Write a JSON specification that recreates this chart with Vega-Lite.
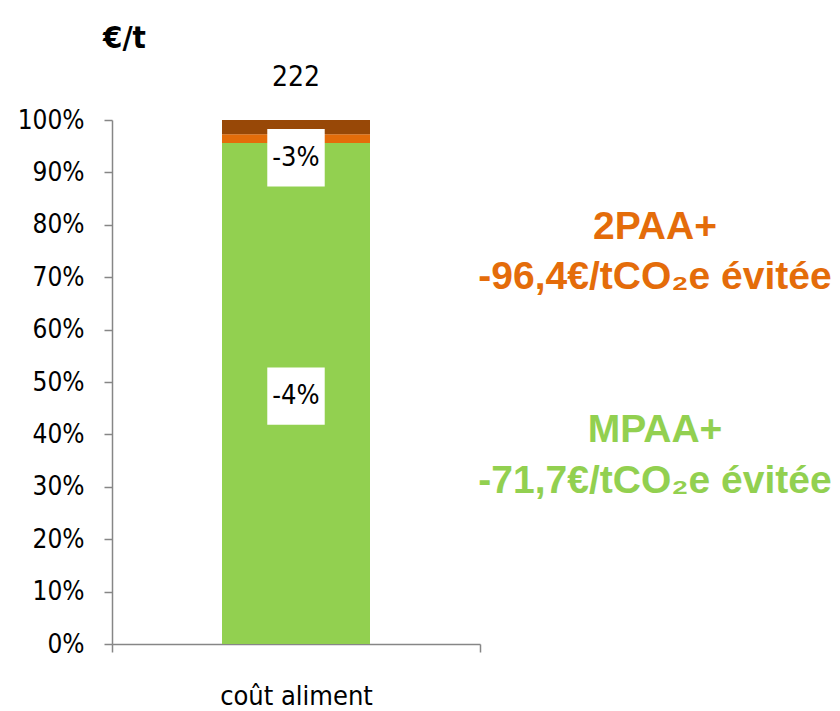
{
  "$schema": "https://vega.github.io/schema/vega-lite/v6.json",
  "background": "white",
  "padding": {"left": 17, "top": 22, "right": 0, "bottom": 0},
  "bounds": "flush",
  "spacing": 0,
  "config": {"view": {"stroke": null}, "font": "'DejaVu Sans Condensed', 'Liberation Sans Narrow', 'Roboto Condensed', 'Liberation Sans', sans-serif"},
  "datasets": {
    "parts": [
      {"poste": "coût aliment", "segment": "MPAA+", "part": 0.956},
      {"poste": "coût aliment", "segment": "2PAA+", "part": 0.017},
      {"poste": "coût aliment", "segment": "autre", "part": 0.027}
    ],
    "labels": [
      {"poste": "coût aliment", "label": "-3%"},
      {"poste": "coût aliment", "label": "-4%"}
    ],
    "total": [{"poste": "coût aliment", "total": 222}],
    "notes": [
      {"projet": "2PAA+", "lignes": ["2PAA+", "-96,4€/tCO₂e évitée"]},
      {"projet": "MPAA+", "lignes": ["MPAA+", "-71,7€/tCO₂e évitée"]}
    ]
  },
  "hconcat": [
    {
      "width": 368,
      "height": 524,
      "layer": [
        {
          "data": {"name": "parts"},
          "transform": [{"calculate": "indexof(['MPAA+', '2PAA+', 'autre'], datum.segment)", "as": "rang"}],
          "mark": {"type": "bar", "width": 148},
          "encoding": {
            "x": {
              "field": "poste", "type": "nominal",
              "scale": {"paddingInner": 0, "paddingOuter": 0},
              "axis": {
                "title": null, "labelAngle": 0, "labelFontSize": 27, "labelColor": "black",
                "labelPadding": 31, "tickBand": "extent", "tickSize": 8,
                "domainColor": "#868686", "tickColor": "#868686", "domainWidth": 1.5, "tickWidth": 1.5
              }
            },
            "y": {
              "field": "part", "type": "quantitative", "stack": "zero",
              "scale": {"domain": [0, 1]},
              "axis": {
                "title": "€/t", "titleAngle": 0, "titleFontWeight": "bold", "titleFontSize": 31,
                "titleColor": "black", "titleX": 12, "titleY": -73, "titleAlign": "center",
                "titleBaseline": "alphabetic",
                "format": ".0%", "values": [0, 0.1, 0.2, 0.3, 0.4, 0.5, 0.6, 0.7, 0.8, 0.9, 1],
                "labelFontSize": 26, "labelColor": "black", "labelPadding": 20, "tickSize": 8,
                "grid": false, "domainColor": "#868686", "tickColor": "#868686",
                "domainWidth": 1.5, "tickWidth": 1.5
              }
            },
            "order": {"field": "rang", "type": "quantitative", "sort": "ascending"},
            "color": {
              "field": "segment", "type": "nominal",
              "scale": {"domain": ["MPAA+", "2PAA+", "autre"], "range": ["#92D050", "#E46C0A", "#984807"]},
              "legend": null
            }
          }
        },
        {
          "data": {"name": "labels"},
          "transform": [{"filter": "datum.label === '-3%'"}],
          "layer": [
            {"mark": {"type": "square", "filled": true, "color": "white", "opacity": 1, "size": 3300},
             "encoding": {"x": {"field": "poste", "type": "nominal"}, "y": {"datum": 0.928}}},
            {"mark": {"type": "text", "fontSize": 27, "color": "black"},
             "encoding": {"x": {"field": "poste", "type": "nominal"}, "y": {"datum": 0.928}, "text": {"field": "label"}}}
          ]
        },
        {
          "data": {"name": "labels"},
          "transform": [{"filter": "datum.label === '-4%'"}],
          "layer": [
            {"mark": {"type": "square", "filled": true, "color": "white", "opacity": 1, "size": 3300},
             "encoding": {"x": {"field": "poste", "type": "nominal"}, "y": {"datum": 0.473}}},
            {"mark": {"type": "text", "fontSize": 27, "color": "black"},
             "encoding": {"x": {"field": "poste", "type": "nominal"}, "y": {"datum": 0.473}, "text": {"field": "label"}}}
          ]
        },
        {
          "data": {"name": "total"},
          "mark": {"type": "text", "fontSize": 28, "color": "black", "baseline": "alphabetic", "dy": -34},
          "encoding": {"x": {"field": "poste", "type": "nominal"}, "y": {"datum": 1}, "text": {"field": "total", "type": "quantitative"}}
        }
      ]
    },
    {
      "width": 350,
      "height": 524,
      "data": {"name": "notes"},
      "layer": [
        {
          "transform": [{"filter": "datum.projet === '2PAA+'"}],
          "mark": {"type": "text", "font": "Liberation Sans", "fontWeight": "bold", "fontSize": 39, "color": "#E46C0A", "lineHeight": 50},
          "encoding": {
            "x": {"datum": 0.5, "scale": {"domain": [0, 1]}, "axis": null},
            "y": {"datum": 0.796, "scale": {"domain": [0, 1]}, "axis": null},
            "text": {"field": "lignes"}
          }
        },
        {
          "transform": [{"filter": "datum.projet === 'MPAA+'"}],
          "mark": {"type": "text", "font": "Liberation Sans", "fontWeight": "bold", "fontSize": 39, "color": "#92D050", "lineHeight": 51},
          "encoding": {
            "x": {"datum": 0.5, "scale": {"domain": [0, 1]}, "axis": null},
            "y": {"datum": 0.408, "scale": {"domain": [0, 1]}, "axis": null},
            "text": {"field": "lignes"}
          }
        }
      ]
    }
  ]
}
